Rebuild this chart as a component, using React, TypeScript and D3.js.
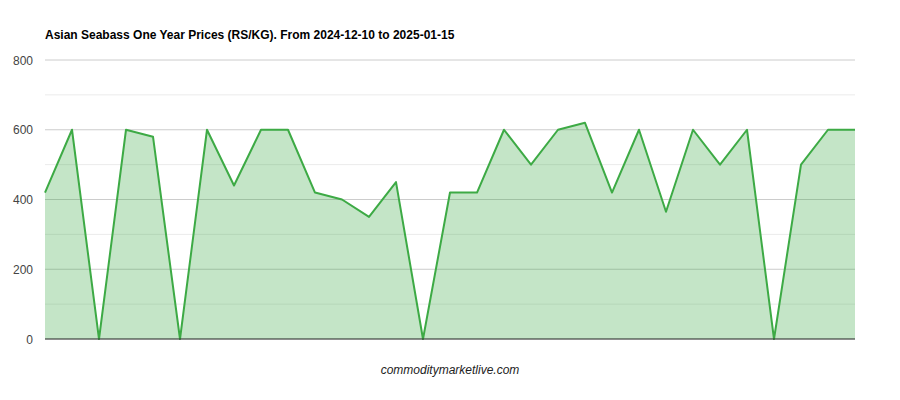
import React from "react";
import * as d3 from "d3";

const prices: number[] = [
  420, 600, 0, 600, 580, 0, 600, 440, 600, 600, 420, 400, 350, 450, 0, 420,
  420, 600, 500, 600, 620, 420, 600, 365, 600, 500, 600, 0, 500, 600, 600,
];
const majorTicks: number[] = [0, 200, 400, 600, 800];
const minorTicks: number[] = [100, 300, 500, 700];
const title = "Asian Seabass One Year Prices (RS/KG). From 2024-12-10 to 2025-01-15";
const footer = "commoditymarketlive.com";

const W = 900;
const H = 400;
const left = 45;
const right = 855;
const top = 60;
const bottom = 339;
const color = "#3daa45";

export default function App() {
  const x = d3.scaleLinear().domain([0, prices.length - 1]).range([left, right]);
  const y = d3.scaleLinear().domain([0, 800]).range([bottom, top]);
  const area = d3
    .area<number>()
    .x((_, i) => x(i))
    .y0(y(0))
    .y1((d) => y(d));
  const line = d3
    .line<number>()
    .x((_, i) => x(i))
    .y((d) => y(d));

  return (
    <svg
      width={W}
      height={H}
      style={{ position: "absolute", left: 0, top: 0, fontFamily: "Arial, 'Liberation Sans', sans-serif" }}
    >
      <rect width={W} height={H} fill="#fff" />
      <text x={45} y={39} fontSize={12} fontWeight="bold" fill="#000">
        {title}
      </text>
      {minorTicks.map((t) => (
        <line key={"m" + t} x1={left} x2={right} y1={y(t)} y2={y(t)} stroke="#ebebeb" strokeWidth={1} />
      ))}
      {majorTicks.map((t) => (
        <line key={"g" + t} x1={left} x2={right} y1={y(t)} y2={y(t)} stroke="#cccccc" strokeWidth={1} />
      ))}
      {majorTicks.map((t) => (
        <text key={"l" + t} x={33} y={y(t) + 4.5} fontSize={12} fill="#444" textAnchor="end">
          {t}
        </text>
      ))}
      <path d={area(prices) ?? ""} fill={color} fillOpacity={0.3} />
      <path d={line(prices) ?? ""} fill="none" stroke={color} strokeWidth={2} strokeLinejoin="round" />
      <line x1={left} x2={right} y1={y(0)} y2={y(0)} stroke="#333" strokeWidth={1} />
      <text x={450} y={374} fontSize={12} fontStyle="italic" fill="#222" textAnchor="middle">
        {footer}
      </text>
    </svg>
  );
}
